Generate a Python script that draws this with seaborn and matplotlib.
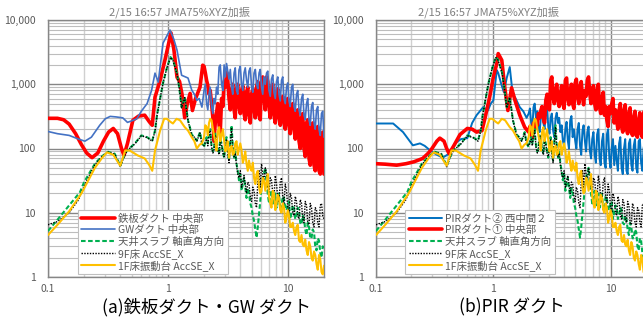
import numpy as np
import pandas as pd
import matplotlib
matplotlib.use('Agg')
import matplotlib.pyplot as plt
import seaborn as sns
from matplotlib.ticker import FixedLocator, FixedFormatter, NullFormatter, LogLocator

sns.set_theme(style='white')
plt.rcParams['font.family'] = ['Noto Sans CJK JP', 'DejaVu Sans']

TITLE = '2/15 16:57 JMA75%XYZ加振'
CAPTIONS = ['(a)鉄板ダクト・GW ダクト', '(b)PIR ダクト']
X_TICKS = [0.1, 1, 10]
X_LABELS = ['0.1', '1', '10']
Y_TICKS = [1, 10, 100, 1000, 10000]
Y_LABELS = ['1', '10', '100', '1,000', '10,000']

LAB_STEEL = '鉄板ダクト 中央部'
LAB_GW = 'GWダクト 中央部'
LAB_SLAB = '天井スラブ 軸直角方向'
LAB_F9 = '9F床 AccSE_X'
LAB_F1 = '1F床振動台 AccSE_X'
LAB_PIR2 = 'PIRダクト② 西中間２'
LAB_PIR1 = 'PIRダクト① 中央部'

# frequency samples of the noisy band (Hz)
freq_hi = [2.00, 2.10, 2.20, 2.31, 2.42, 2.54, 2.67, 2.80, 2.94, 3.08, 3.23, 3.39,
           3.56, 3.73, 3.91, 4.11, 4.31, 4.52, 4.74, 4.98, 5.22, 5.48, 5.75, 6.03,
           6.32, 6.64, 6.96, 7.30, 7.66, 8.04, 8.43, 8.85, 9.28, 9.74, 10.22, 10.72,
           11.25, 11.80, 12.38, 12.99, 13.63, 14.30, 15.00, 15.73, 16.51, 17.32,
           18.17, 19.06, 20.00]
freq_mid = [2.05, 2.15, 2.25, 2.37, 2.48, 2.60, 2.73, 2.87, 3.01, 3.15, 3.31, 3.47,
            3.64, 3.82, 4.01, 4.21, 4.41, 4.63, 4.86, 5.10, 5.35, 5.61, 5.88, 6.17,
            6.48, 6.80, 7.13, 7.48, 7.85, 8.23, 8.64, 9.06, 9.51, 9.97, 10.46, 10.98,
            11.52, 12.08, 12.68, 13.30, 13.95, 14.64, 15.36, 16.11, 16.91, 17.74,
            18.61, 19.52]

# ---- floor / slab series (same in both panels)
slab_lo_f = [0.10, 0.12, 0.15, 0.185, 0.20, 0.246, 0.28, 0.316, 0.36, 0.40, 0.43, 0.455,
             0.53, 0.60, 0.67, 0.74, 0.78, 0.81, 0.86, 0.91, 0.98, 1.05, 1.10, 1.19,
             1.25, 1.30, 1.38, 1.47, 1.58, 1.66, 1.74, 1.85, 1.92]
slab_lo_v = [5.2, 7.8, 13, 21, 30, 58, 75, 89, 83, 54, 75, 93,
             120, 160, 150, 133, 190, 330, 600, 1040, 1800, 2650, 2400, 1490,
             800, 440, 630, 275, 165, 150, 133, 180, 120]
slab_hi_v = [105, 150, 165, 110, 100, 140, 83,
             120, 72, 150, 65, 230, 72, 58,
             32, 22, 35, 17, 20, 12, 7.5,
             4.1, 9.5, 25, 41, 28, 14, 22,
             16, 12, 20, 13, 17, 11, 15,
             10, 12, 9, 11, 6.6, 8, 4.5,
             6, 4, 5, 2.6, 3.7, 2.0, 2.8]
slab_mid_v = [130, 120, 200, 90, 170, 100, 140, 90,
              110, 90, 130, 110, 90, 45, 40, 28,
              25, 24, 14, 9, 5.5, 6, 15, 35,
              50, 20, 18, 13, 20, 15, 11, 18,
              12, 14, 8, 13, 8, 12, 7, 9,
              5.5, 7, 4, 5.5, 3, 4, 2.4, 3]

f9_lo_f = [0.10, 0.12, 0.15, 0.18, 0.20, 0.246, 0.28, 0.316, 0.36, 0.40, 0.43, 0.455,
           0.53, 0.60, 0.67, 0.74, 0.78, 0.81, 0.86, 0.91, 0.98, 1.05, 1.10, 1.19,
           1.25, 1.30, 1.38, 1.47, 1.58, 1.66, 1.74, 1.85, 1.92]
f9_lo_v = [6.5, 7.3, 10, 16, 26, 56, 74, 88, 82, 52, 74, 92,
           118, 158, 148, 130, 185, 320, 600, 1040, 1800, 2600, 2350, 1450,
           800, 430, 620, 270, 160, 150, 130, 175, 118]
f9_hi_v = [110, 140, 170, 105, 95, 150, 80,
           115, 75, 140, 60, 210, 75, 55,
           35, 25, 38, 20, 28, 15, 22,
           12, 45, 58, 30, 41, 20, 32,
           18, 28, 15, 35, 14, 22, 10,
           17, 9, 15, 8, 14, 7, 13,
           6.5, 12, 6, 11, 6, 14, 8]
f9_mid_v = [125, 110, 190, 85, 160, 95, 130, 85,
            105, 85, 120, 100, 85, 40, 45, 30,
            28, 30, 18, 25, 14, 30, 25, 40,
            50, 25, 35, 20, 38, 17, 30, 18,
            28, 12, 20, 10, 18, 9, 16, 8,
            15, 7, 14, 7, 12, 7, 13, 9]

f1_lo_f = [0.10, 0.12, 0.15, 0.19, 0.246, 0.28, 0.31, 0.35, 0.40, 0.44, 0.48, 0.56,
           0.64, 0.70, 0.74, 0.78, 0.86, 0.93, 0.98, 1.05, 1.10, 1.18, 1.26, 1.38,
           1.47, 1.58, 1.66, 1.74, 1.84, 1.92]
f1_lo_v = [4.5, 6.5, 10.5, 20, 50, 70, 87, 80, 54, 93, 93, 78,
           70, 55, 45, 93, 190, 290, 290, 260, 245, 290, 275, 215,
           190, 150, 130, 100, 115, 120]
f1_hi_v = [150, 215, 250, 275, 160, 93, 215,
           160, 133, 100, 72, 110, 85, 130,
           100, 93, 70, 58, 65, 45, 35,
           40, 25, 22, 32, 30, 18, 12,
           20, 14, 17, 10, 12, 8.4, 9,
           6, 5.2, 6, 3.7, 4.5, 3, 2.6,
           3.5, 2, 2.5, 1.6, 2.2, 1.2, 1.5]
f1_mid_v = [230, 160, 290, 200, 130, 180, 130, 200,
            90, 130, 100, 80, 120, 80, 120, 60,
            90, 45, 50, 60, 28, 45, 20, 35,
            22, 40, 14, 22, 11, 19, 11, 14,
            7, 11, 6, 7, 4.5, 6.5, 3.5, 3.2,
            3.8, 2.2, 3, 1.8, 2.2, 1.3, 1.9, 1.1]

# ---- panel (a) ducts
steel_lo_f = [0.10, 0.12, 0.135, 0.15, 0.17, 0.19, 0.21, 0.233, 0.26, 0.29, 0.32, 0.35,
              0.38, 0.41, 0.43, 0.46, 0.51, 0.57, 0.64, 0.70, 0.74, 0.78, 0.86, 0.95,
              1.06, 1.12, 1.19, 1.25, 1.31, 1.38, 1.45, 1.53, 1.60, 1.70, 1.85, 1.95]
steel_lo_v = [295, 295, 280, 240, 170, 115, 85, 72, 85, 130, 180, 205,
              170, 100, 78, 120, 275, 320, 330, 260, 230, 630, 1150, 2500,
              6300, 3500, 1290, 1100, 700, 300, 500, 720, 390, 600, 900, 1980]
steel_hi_v = [1900, 1150, 700, 500, 130, 350, 230,
              600, 1100, 1540, 600, 800, 400, 850,
              450, 800, 350, 750, 330, 700, 400,
              900, 330, 1100, 600, 1300, 450, 900,
              330, 700, 300, 550, 250, 500, 230,
              450, 200, 350, 130, 300, 100, 250,
              70, 220, 55, 200, 45, 160, 40]
steel_mid_v = [1500, 950, 800, 300, 250, 500, 180, 450,
               900, 1200, 400, 1000, 300, 1000, 350, 950,
               280, 900, 250, 850, 300, 1100, 280, 1300,
               400, 1100, 300, 1000, 250, 850, 230, 650,
               200, 600, 170, 500, 140, 400, 100, 350,
               75, 280, 55, 250, 45, 220, 40, 180]

gw_lo_f = [0.10, 0.12, 0.15, 0.18, 0.203, 0.23, 0.27, 0.30, 0.33, 0.37, 0.42, 0.46,
           0.50, 0.55, 0.60, 0.67, 0.73, 0.78, 0.83, 0.91, 1.04, 1.12, 1.19, 1.30,
           1.40, 1.47, 1.58, 1.66, 1.74, 1.82, 1.92]
gw_lo_v = [184, 170, 160, 140, 130, 150, 230, 290, 316, 310, 300, 255,
           270, 290, 380, 500, 800, 1490, 1080, 4370, 6980, 5000, 3400, 1380,
           1300, 1250, 810, 700, 560, 600, 440]
gw_hi_v = [800, 500, 700, 450, 600, 900, 1850,
           1000, 2000, 2100, 1200, 900, 1500, 800,
           1660, 1000, 1500, 1150, 1600, 900, 1490,
           1000, 1500, 900, 1300, 1490, 800, 1200,
           750, 1100, 700, 1150, 600, 900, 550,
           900, 450, 700, 400, 600, 330, 500,
           280, 450, 250, 400, 200, 350, 150]
gw_mid_v = [1000, 400, 900, 350, 500, 700, 2000, 800,
            1300, 1600, 1700, 700, 1800, 700, 1900, 800,
            1800, 900, 1800, 750, 1700, 850, 1700, 700,
            1000, 1600, 650, 1400, 600, 1300, 550, 1300,
            500, 1050, 450, 1000, 380, 800, 330, 700,
            280, 600, 230, 520, 200, 450, 160, 380]

# ---- panel (b) ducts
pir2_lo_f = [0.10, 0.14, 0.17, 0.206, 0.237, 0.26, 0.29, 0.33, 0.37, 0.42, 0.47, 0.53,
             0.60, 0.66, 0.72, 0.82, 0.90, 0.95, 1.00, 1.07, 1.10, 1.17, 1.23, 1.30,
             1.38, 1.46, 1.55, 1.68, 1.80, 1.92]
pir2_lo_v = [245, 245, 180, 112, 120, 110, 93, 80, 72, 83, 120, 140,
             145, 250, 330, 440, 390, 500, 560, 1660, 1500, 1000, 750, 1250,
             1850, 720, 600, 440, 380, 300]
pir2_hi_v = [350, 250, 440, 300, 215, 300, 250,
             350, 215, 300, 190, 300, 250, 180,
             133, 200, 133, 275, 150, 133, 200,
             110, 190, 130, 180, 93, 140, 80,
             165, 70, 130, 60, 165, 70, 105,
             55, 65, 120, 50, 100, 45, 120,
             55, 110, 50, 130, 60, 100, 55]
pir2_mid_v = [420, 200, 500, 380, 180, 380, 200, 450,
              170, 350, 150, 360, 300, 230, 110, 260,
              100, 320, 200, 100, 250, 80, 230, 90,
              220, 70, 180, 60, 200, 55, 170, 50,
              200, 50, 140, 110, 45, 150, 40, 140,
              40, 140, 45, 140, 42, 140, 45, 130]

pir1_lo_f = [0.10, 0.12, 0.15, 0.18, 0.21, 0.25, 0.28, 0.30, 0.33, 0.35, 0.38, 0.40,
             0.42, 0.46, 0.52, 0.60, 0.66, 0.72, 0.80, 0.85, 0.93, 1.00, 1.07, 1.10,
             1.18, 1.25, 1.33, 1.43, 1.53, 1.68, 1.85]
pir1_lo_v = [58, 57, 55, 58, 62, 70, 85, 100, 130, 145, 130, 100,
             83, 110, 165, 205, 200, 180, 190, 300, 630, 1290, 2100, 3000,
             2370, 900, 390, 880, 560, 330, 215]
pir1_hi_v = [180, 165, 250, 275, 350, 390, 300,
             560, 450, 1150, 630, 800, 560, 700,
             500, 1150, 600, 720, 500, 1040, 650,
             900, 630, 800, 1150, 700, 720, 500,
             800, 440, 600, 330, 275, 450, 500,
             250, 275, 400, 220, 390, 200, 350,
             180, 300, 160, 280, 170, 350, 200]
pir1_mid_v = [220, 150, 200, 230, 300, 450, 250, 700,
              400, 1300, 500, 1000, 450, 950, 420, 1250,
              480, 1000, 420, 1200, 500, 1100, 480, 650,
              1300, 500, 950, 400, 1000, 350, 750, 450,
              220, 350, 600, 400, 200, 500, 180, 480,
              170, 430, 160, 380, 150, 360, 150, 420]


def series(lo_f, lo_v, hi_v, mid_v):
    df = pd.DataFrame({'f': list(lo_f) + list(freq_hi) + list(freq_mid),
                       'v': list(lo_v) + list(hi_v) + list(mid_v)})
    return df.sort_values('f').reset_index(drop=True)


fig = plt.figure(figsize=(6.43, 3.22), dpi=100)
fig.patch.set_facecolor('white')

ax_a = fig.add_axes([48 / 643, 45 / 322, 276 / 643, 257 / 322])
ax_b = fig.add_axes([376 / 643, 45 / 322, 270 / 643, 257 / 322])

STYLE = {
    LAB_STEEL: dict(color='#FF0000', lw=2.6, ls='-'),
    LAB_GW: dict(color='#4472C4', lw=1.2, ls='-'),
    LAB_PIR2: dict(color='#0070C0', lw=1.4, ls='-'),
    LAB_PIR1: dict(color='#FF0000', lw=2.6, ls='-'),
    LAB_SLAB: dict(color='#00B050', lw=1.5, ls=(0, (2.2, 1.2))),
    LAB_F9: dict(color='#000000', lw=1.0, ls=(0, (1, 1))),
    LAB_F1: dict(color='#FFC000', lw=1.5, ls='-'),
}

slab = series(slab_lo_f, slab_lo_v, slab_hi_v, slab_mid_v)
f9 = series(f9_lo_f, f9_lo_v, f9_hi_v, f9_mid_v)
f1 = series(f1_lo_f, f1_lo_v, f1_hi_v, f1_mid_v)

panels = [
    (ax_a, [(LAB_STEEL, series(steel_lo_f, steel_lo_v, steel_hi_v, steel_mid_v)),
            (LAB_GW, series(gw_lo_f, gw_lo_v, gw_hi_v, gw_mid_v)),
            (LAB_SLAB, slab), (LAB_F9, f9), (LAB_F1, f1)]),
    (ax_b, [(LAB_PIR2, series(pir2_lo_f, pir2_lo_v, pir2_hi_v, pir2_mid_v)),
            (LAB_PIR1, series(pir1_lo_f, pir1_lo_v, pir1_hi_v, pir1_mid_v)),
            (LAB_SLAB, slab), (LAB_F9, f9), (LAB_F1, f1)]),
]

gray_txt = '#595959'
for ax, lines in panels:
    ax.set_facecolor('white')
    for i, (lab, df) in enumerate(lines):
        st = STYLE[lab]
        sns.lineplot(data=df, x='f', y='v', ax=ax, sort=False, estimator=None,
                     color=st['color'], lw=st['lw'], label=lab, zorder=3 + i)
        ax.get_lines()[-1].set_linestyle(st['ls'])
    ax.set_xscale('log')
    ax.set_yscale('log')
    ax.set_xlim(0.1, 20)
    ax.set_ylim(1, 10000)
    ax.xaxis.set_major_locator(FixedLocator(X_TICKS))
    ax.xaxis.set_major_formatter(FixedFormatter(X_LABELS))
    ax.yaxis.set_major_locator(FixedLocator(Y_TICKS))
    ax.yaxis.set_major_formatter(FixedFormatter(Y_LABELS))
    ax.xaxis.set_minor_locator(LogLocator(base=10, subs=np.arange(2, 10), numticks=20))
    ax.yaxis.set_minor_locator(LogLocator(base=10, subs=np.arange(2, 10), numticks=20))
    ax.xaxis.set_minor_formatter(NullFormatter())
    ax.yaxis.set_minor_formatter(NullFormatter())
    ax.grid(which='minor', axis='x', color='#D0D0D0', lw=1.0, zorder=0)
    ax.grid(which='minor', axis='y', color='#BDBDBD', lw=0.8, zorder=0)
    ax.grid(which='major', color='#868686', lw=1.0, zorder=1)
    ax.set_axisbelow(True)
    ax.tick_params(which='both', length=0, labelsize=7.5, colors=gray_txt)
    ax.tick_params(axis='y', pad=9)
    ax.tick_params(axis='x', pad=5)
    ax.set_xlabel('')
    ax.set_ylabel('')
    for sp in ax.spines.values():
        sp.set_color('#868686')
        sp.set_linewidth(1.0)
    leg = ax.legend(loc='lower left', bbox_to_anchor=(0.108, 0.01), borderaxespad=0,
                    fontsize=7.5, labelspacing=0.12, handlelength=3.2, handletextpad=0.3,
                    borderpad=0.35, frameon=True, fancybox=False, framealpha=1)
    leg.get_frame().set_edgecolor('#BFBFBF')
    leg.get_frame().set_linewidth(0.8)
    leg.set_zorder(20)
    for t in leg.get_texts():
        t.set_color(gray_txt)

fig.text(179 / 643, 1 - 12 / 322, TITLE, ha='center', va='center', fontsize=8, color='#7F7F7F')
fig.text(488 / 643, 1 - 12 / 322, TITLE, ha='center', va='center', fontsize=8, color='#7F7F7F')
fig.text(207 / 643, 1 - 307 / 322, CAPTIONS[0], ha='center', va='center', fontsize=12.5, color='black')
fig.text(512 / 643, 1 - 307 / 322, CAPTIONS[1], ha='center', va='center', fontsize=12.5, color='black')

fig.savefig('out.png', dpi=100, facecolor='white')
